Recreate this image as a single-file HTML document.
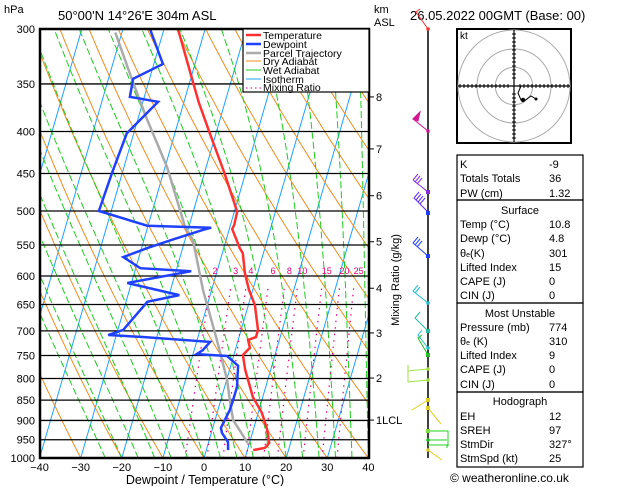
<!DOCTYPE html>
<html><head><meta charset="utf-8"><style>
body{margin:0;background:#fff;}
svg text{font-family:"Liberation Sans",sans-serif;}
</style></head><body>
<svg id="c" width="629" height="486" viewBox="0 0 629 486" xmlns="http://www.w3.org/2000/svg">
<defs><clipPath id="pc"><rect x="40" y="29" width="329" height="429"/></clipPath></defs>
<rect width="629" height="486" fill="#fff"/>
<g id="bg" clip-path="url(#pc)"></g>
<g id="grid"></g>
<g id="series" clip-path="url(#pc)"></g>
<g id="axes"></g>
</svg>
<script>
// ---- data ----
const tempP = [300,349,369,402,449,501,520,526,555,563,595,624,651,698,712,718,734,749,781,843,881,924,959,972,978];
const tempT = [-36.6,-29.1,-26.3,-21.5,-15.2,-9.3,-9.1,-9.3,-6.1,-5.0,-3.1,-0.9,1.6,4.1,4.1,2.4,3.4,2.2,3.8,7.6,10.9,13.4,14.8,14.1,11.4];
const dewP = [300,331,345,363,368,402,449,500,521,524,527,542,555,569,587,592,612,633,645,698,708,712,722,739,747,751,772,819,850,874,919,932,956,978];
const dewT = [-43.4,-37.8,-44.0,-43.5,-36.3,-41.7,-42.5,-43.0,-30.2,-14.5,-16.3,-23.2,-28.7,-33.8,-28.9,-16.3,-31.0,-17.5,-24.8,-28.7,-32.0,-23.4,-6.7,-7.9,-9.1,-1.6,1.8,3.0,3.0,2.9,2.0,2.6,4.7,5.3];
const parcelP = [959,899,850,803,718,624,542,523,442,387,349,303];
const parcelT = [9.6,4.4,2.2,0.1,-5.2,-12.1,-18.1,-20.9,-29.5,-37.7,-43.7,-51.6];
const pressureTicks = [300,350,400,450,500,550,600,650,700,750,800,850,900,950,1000];
const tempTicks = [-40,-30,-20,-10,0,10,20,30,40];
const mixRatios = [2,3,4,6,8,10,15,20,25];
const kmLabels = ["8","7","6","5","4","3","2","1"];
const kmPressures = [363,420,479,545,621,704,799,899];

// ---- axes ----
const NS="http://www.w3.org/2000/svg";
function yP(p){return 29+Math.log(p/300)/Math.log(1000/300)*429;}
function xT(T,y){return 204+4.11*T+0.29*(458-y);}
function el(tag,attrs,parent){const e=document.createElementNS(NS,tag);for(const k in attrs)e.setAttribute(k,attrs[k]);parent.appendChild(e);return e;}
const bg=document.getElementById('bg'),grid=document.getElementById('grid'),series=document.getElementById('series'),axes=document.getElementById('axes');
function polyFrom(ps,ts){return ps.map((p,i)=>{const y=yP(p);return xT(ts[i],y).toFixed(1)+','+y.toFixed(1);}).join(' ');}
function curve(fn){const pts=[];for(let p=1000;p>=295;p-=5){const T=fn(p);const y=yP(p);pts.push(xT(T,y).toFixed(1)+','+y.toFixed(1));}return pts.join(' ');}

for(let T=-130;T<=40;T+=10){
  const y1=yP(1000),y2=yP(300);
  const l=el('line',{x1:xT(T,y1),y1:y1,x2:xT(T,y2),y2:y2,stroke:'#1aa3ff','stroke-width':1},bg);
  
  
}
for(let th=-40;th<=200;th+=10){
  const l=el('polyline',{points:curve(p=>(th+273.15)*Math.pow(p/1000,0.2857)-273.15),fill:'none',stroke:'#f08c1e','stroke-width':1},bg);
  
  
}
function es(T){return 6.112*Math.exp(17.67*T/(T+243.5));}
for(let tw=-24;tw<=40;tw+=4){
  let T=tw+273.15;const pts=[];
  for(let p=1000;p>=295;p-=5){
    const y=yP(p);pts.push(xT(T-273.15,y).toFixed(1)+','+y.toFixed(1));
    const e=es(T-273.15);const rs=0.622*e/(p-e);
    const dTdp=(1/p)*(287*T+2.5e6*rs)/(1004+2.5e6*2.5e6*rs*0.622/(287*T*T));
    T-=dTdp*5;
  }
  const l=el('polyline',{points:pts.join(' '),fill:'none',stroke:'#1ccc1c','stroke-width':1,'stroke-dasharray':'7,3'},bg);
  
  
}
function tdFromW(w,p){const e=w*p/(622+w);const a=Math.log(e/6.112);return 243.5*a/(17.67-a)+4;}
mixRatios.forEach(w=>{
  const pts=[];for(let p=1000;p>=620;p-=5){const y=yP(p);pts.push(xT(tdFromW(w,p),y).toFixed(1)+','+y.toFixed(1));}
  const l=el('polyline',{points:pts.join(' '),fill:'none',stroke:'#e6007e','stroke-width':1.2,'stroke-dasharray':'1.5,5'},bg);
  
  
  const y=yP(620);
  const t=el('text',{x:xT(tdFromW(w,620),y)+5,y:274,'font-size':9,fill:'#e6007e','text-anchor':'middle'},grid);
  t.textContent=w;
  
  
});
pressureTicks.forEach(p=>{
  const y=yP(p);
  const l=el('line',{x1:40,y1:y,x2:369,y2:y,stroke:'#000','stroke-width':1.3},grid);
  
  
  const t=el('text',{x:35,y:y+4,'font-size':11,'text-anchor':'end'},axes);
  t.textContent=p;
  
  
});
tempTicks.forEach(T=>{
  const x=xT(T,458);
  const t=el('text',{x:x,y:471,'font-size':11,'text-anchor':'middle'},axes);
  t.textContent=T<0?'\u2212'+(-T):T;
  
  
});
kmLabels.forEach((k,i)=>{
  const y=yP(kmPressures[i]);
  el('line',{x1:369,y1:y,x2:374,y2:y,stroke:'#000'},axes);
  const t=el('text',{x:376,y:y+4,'font-size':11},axes);
  t.textContent=k==="1"?"1LCL":k;
  
  
});

const par=el('polyline',{points:polyFrom(parcelP,parcelT),fill:'none',stroke:'#aaaaaa','stroke-width':2.5},series);


const dw=el('polyline',{points:polyFrom(dewP,dewT),fill:'none',stroke:'#2040ff','stroke-width':2.5},series);


const tl=el('polyline',{points:polyFrom(tempP,tempT),fill:'none',stroke:'#ff3030','stroke-width':2.5},series);


</script>
<svg style="position:absolute;left:0;top:0" width="629" height="486">
<style>text{font-family:"Liberation Sans",sans-serif;}</style>
<rect x="40" y="29" width="329" height="429" fill="none" stroke="#000" stroke-width="2.5"/>
<text x="4" y="13" font-size="11">hPa</text>
<text x="58" y="20" font-size="13">50°00'N  14°26'E  304m  ASL</text>
<text x="374" y="13" font-size="11">km</text>
<text x="374" y="26" font-size="11">ASL</text>
<text x="410" y="20" font-size="13">26.05.2022  00GMT  (Base: 00)</text>
<text x="205" y="484" font-size="12.5" text-anchor="middle">Dewpoint / Temperature (°C)</text>
<text transform="translate(399,280) rotate(-90)" font-size="11" text-anchor="middle">Mixing Ratio (g/kg)</text>
<g font-size="10.5">
<rect x="243" y="29" width="126" height="63" fill="#fff" stroke="#000" stroke-width="1.2"/>
<line x1="246" y1="35" x2="261" y2="35" stroke="#ff3030" stroke-width="2.5"/><text x="263" y="39">Temperature</text>
<line x1="246" y1="44" x2="261" y2="44" stroke="#2040ff" stroke-width="2.5"/><text x="263" y="48">Dewpoint</text>
<line x1="246" y1="53" x2="261" y2="53" stroke="#aaa" stroke-width="2.5"/><text x="263" y="57">Parcel Trajectory</text>
<line x1="246" y1="61" x2="261" y2="61" stroke="#f08c1e"/><text x="263" y="65">Dry Adiabat</text>
<line x1="246" y1="70" x2="261" y2="70" stroke="#1ccc1c"/><text x="263" y="74">Wet Adiabat</text>
<line x1="246" y1="79" x2="261" y2="79" stroke="#1aa3ff"/><text x="263" y="83">Isotherm</text>
<line x1="246" y1="88" x2="261" y2="88" stroke="#e6007e" stroke-dasharray="1.5,3"/><text x="263" y="91">Mixing Ratio</text>
</g>
<g fill="none" stroke-width="1">
<line x1="428" y1="29" x2="428" y2="458" stroke="#000" stroke-width="1.5"/>
<polyline points="428,29 416,12 420,9" stroke="#ff3030"/><circle cx="428" cy="29" r="1.8" fill="#ff3030"/>
<polyline points="428,131 413,119 420,112" stroke="#d01890"/><polygon points="413,119 420,112 418,121" fill="#d01890" stroke="#d01890"/><circle cx="428" cy="131" r="1.8" fill="#d01890"/>
<path d="M428,192L413,180M413,180l5,-6M415,182l5,-6M417,184l5,-6" stroke="#8a2be2"/><rect x="426" y="190" width="4" height="4" fill="#8a2be2"/>
<path d="M428,212L414,198l5,-6M416,200l5,-6M418,202l5,-6M420,204l5,-6" stroke="#5a2bff"/><rect x="426" y="211" width="4" height="4" fill="#2040ff"/>
<path d="M428,256L413,243l5,-6M415,245l5,-6M417,247l5,-6" stroke="#2040ff"/><rect x="426" y="254" width="4" height="4" fill="#2040ff"/>
<path d="M428,303L413,291l5,-6M415,293l5,-6" stroke="#20c0d0"/><circle cx="428" cy="303" r="1.8" fill="#20c0d0"/>
<path d="M428,331L415,318l4,-5M415,318l5,-6" stroke="#20c0a0"/><rect x="426" y="329" width="4" height="4" fill="#20c0a0"/>
<path d="M428,348L418,335l4,-5" stroke="#20c0d0"/><circle cx="428" cy="348" r="1.8" fill="#20c0d0"/>
<path d="M428,355L418,338l4,-3" stroke="#20c020"/><rect x="426" y="353" width="4" height="4" fill="#20c020"/>
<path d="M428,369L408,371L408,366M428,380L408,382L408,365" stroke="#a0e040"/><circle cx="428" cy="369" r="1.8" fill="#a0e040"/><circle cx="428" cy="380" r="1.8" fill="#a0e040"/>
<path d="M428,400L412,410M428,408L441,424" stroke="#e0d020"/><rect x="426" y="398" width="4" height="4" fill="#e0d020"/><rect x="426" y="406" width="4" height="4" fill="#e0d020"/>
<path d="M428,431L448,431L448,446M428,440L447,440M428,445L447,445L447,448" stroke="#20d020"/><rect x="426" y="429" width="4" height="4" fill="#80e040"/><circle cx="428" cy="440" r="1.8" fill="#20c020"/>
<path d="M428,450L442,460" stroke="#e0d020"/><circle cx="428" cy="450" r="1.8" fill="#e0d020"/>
</g>
<g>
<rect x="457" y="29" width="114" height="114" fill="#fff" stroke="#000" stroke-width="2"/>
<circle cx="514" cy="86" r="18.7" fill="none" stroke="#aaa"/>
<circle cx="514" cy="86" r="37" fill="none" stroke="#aaa"/>
<circle cx="514" cy="86" r="56" fill="none" stroke="#aaa"/>
<line x1="458" y1="86" x2="570" y2="86" stroke="#000" stroke-width="1.2"/>
<line x1="514" y1="30" x2="514" y2="142" stroke="#000" stroke-width="1.2"/>
<path d="M460,84v4M464,84v4M468,84v4M472,84v4M476,84v4M480,84v4M484,84v4M488,84v4M492,84v4M496,84v4M500,84v4M504,84v4M508,84v4M520,84v4M524,84v4M528,84v4M532,84v4M536,84v4M540,84v4M544,84v4M548,84v4M552,84v4M556,84v4M560,84v4M564,84v4M568,84v4M512,34h4M512,38h4M512,42h4M512,46h4M512,50h4M512,54h4M512,58h4M512,62h4M512,66h4M512,70h4M512,74h4M512,78h4M512,94h4M512,98h4M512,102h4M512,106h4M512,110h4M512,114h4M512,118h4M512,122h4M512,126h4M512,130h4M512,134h4M512,138h4" stroke="#000"/>
<text x="460" y="39" font-size="10">kt</text>
<polyline points="514,86 521,86 518,93 521,100 524,101 531,96 536,99" fill="none" stroke="#000"/>
<circle cx="523" cy="100" r="2.2" fill="#000"/><circle cx="536" cy="99" r="1.5" fill="#000"/>
</g>
<g font-size="11">
<rect x="457" y="155" width="126" height="45" fill="none" stroke="#000" stroke-width="1.2"/>
<rect x="457" y="200" width="126" height="103" fill="none" stroke="#000" stroke-width="1.2"/>
<rect x="457" y="303" width="126" height="89" fill="none" stroke="#000" stroke-width="1.2"/>
<rect x="457" y="392" width="126" height="75" fill="none" stroke="#000" stroke-width="1.2"/>
<text x="460" y="168">K</text><text x="549" y="168">-9</text>
<text x="460" y="182">Totals Totals</text><text x="549" y="182">36</text>
<text x="460" y="197">PW (cm)</text><text x="549" y="197">1.32</text>
<text x="520" y="214" text-anchor="middle">Surface</text>
<text x="460" y="228">Temp (°C)</text><text x="549" y="228">10.8</text>
<text x="460" y="242">Dewp (°C)</text><text x="549" y="242">4.8</text>
<text x="460" y="257">θ<tspan font-size="7">e</tspan>(K)</text><text x="549" y="257">301</text>
<text x="460" y="271">Lifted Index</text><text x="549" y="271">15</text>
<text x="460" y="285">CAPE (J)</text><text x="549" y="285">0</text>
<text x="460" y="299">CIN (J)</text><text x="549" y="299">0</text>
<text x="520" y="317" text-anchor="middle">Most Unstable</text>
<text x="460" y="331">Pressure (mb)</text><text x="549" y="331">774</text>
<text x="460" y="345">θ<tspan font-size="7">e</tspan> (K)</text><text x="549" y="345">310</text>
<text x="460" y="359">Lifted Index</text><text x="549" y="359">9</text>
<text x="460" y="373">CAPE (J)</text><text x="549" y="373">0</text>
<text x="460" y="388">CIN (J)</text><text x="549" y="388">0</text>
<text x="520" y="405" text-anchor="middle">Hodograph</text>
<text x="460" y="420">EH</text><text x="549" y="420">12</text>
<text x="460" y="434">SREH</text><text x="549" y="434">97</text>
<text x="460" y="448">StmDir</text><text x="549" y="448">327°</text>
<text x="460" y="462">StmSpd (kt)</text><text x="549" y="462">25</text>
</g>
<text x="450" y="482" font-size="12">© weatheronline.co.uk</text>
</svg>
</body></html>
